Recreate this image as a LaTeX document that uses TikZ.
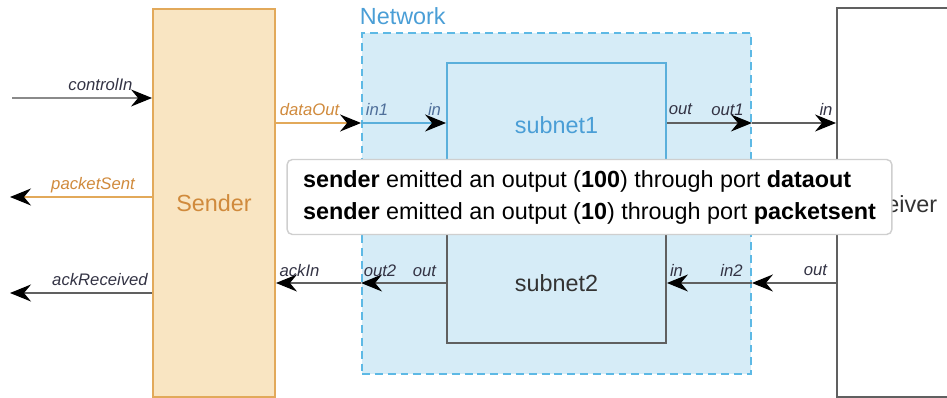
\documentclass[tikz,border=0pt]{standalone}
\usepackage{fontspec}
\setmainfont{Liberation Sans}
\usetikzlibrary{arrows.meta}

\definecolor{sndfill}{HTML}{F9E5C2}
\definecolor{sndline}{HTML}{E2A95A}
\definecolor{sndtext}{HTML}{D08A3C}
\definecolor{netfill}{HTML}{D6ECF7}
\definecolor{netline}{HTML}{5DB9E5}
\definecolor{nettext}{HTML}{4A9ED6}
\definecolor{subline}{HTML}{5AAFDB}
\definecolor{greyline}{HTML}{8A8A8A}
\definecolor{darkline}{HTML}{606060}
\definecolor{portc}{HTML}{333344}
\definecolor{portblue}{HTML}{4F6F9A}
\definecolor{popline}{HTML}{CFCFCF}

\tikzset{
	blk/.style={rectangle, line width=1.1pt, inner sep=0pt, font=\fontsize{13.3}{16}\selectfont},
	wire/.style={line width=0.85pt, -{Stealth[length=0.42cm, width=0.34cm, inset=0.14cm, color=black]}},
	port/.style={anchor=base, inner sep=0pt, text=portc, font=\fontsize{9.5}{11}\selectfont\itshape},
	popup/.style={rectangle, rounded corners=3pt, draw=popline, line width=0.8pt, fill=white,
		align=left, inner sep=0pt, font=\fontsize{13.3}{18.2}\selectfont}
}

\begin{document}
\begin{tikzpicture}[x=0.02cm, y=-0.02cm]
			%%%%% START %%%%%
			\clip (0,0) rectangle (947,398);
			
			% the two end blocks
			\node[blk, draw=sndline, fill=sndfill, text=sndtext, minimum width=2.44cm, minimum height=7.76cm] (sender) at (214,203) {Sender};
			\node[blk, draw=darkline, fill=white, minimum width=2.46cm, minimum height=7.78cm] (receiver) at (898.5,202.5) {};
			\node[blk, text=black!80, anchor=base] (rcvname) at (891,213) {Receiver};
			
			% network with its two subnets
			\node[blk, draw=netline, fill=netfill, dash pattern=on 4.5pt off 2.8pt, minimum width=7.78cm, minimum height=6.82cm] (network) at (556.5,203.5) {};
			\node[blk, text=nettext, anchor=base west] (netname) at (359,25) {Network};
			\node[blk, draw=subline, fill=netfill, text=nettext, minimum width=4.38cm, minimum height=2.48cm] (subnet1) at (556.5,125) {subnet1};
			\node[blk, draw=darkline, fill=netfill, text=black!80, minimum width=4.38cm, minimum height=2.4cm] (subnet2) at (556.5,283) {subnet2};
			
			% free ends on the left
			\coordinate (ctlIn) at (12,98);
			\coordinate (pktSent) at (10,197);
			\coordinate (ackRcv) at (10,293);
			\coordinate (topY) at (0,123);
			\coordinate (botY) at (0,283);
			
			\draw[wire, greyline] (ctlIn) -- (sender.west |- ctlIn);
			\draw[wire, sndline] (sender.west |- pktSent) -- (pktSent);
			\draw[wire, darkline] (sender.west |- ackRcv) -- (ackRcv);
			
			% data path
			\draw[wire, sndline] (sender.east |- topY) -- (network.west |- topY);
			\draw[wire, subline] (network.west |- topY) -- (subnet1.west |- topY);
			\draw[wire, darkline] (subnet1.east |- topY) -- (network.east |- topY);
			\draw[wire, darkline] (network.east |- topY) -- (receiver.west |- topY);
			
			% ack path
			\draw[wire, darkline] (receiver.west |- botY) -- (network.east |- botY);
			\draw[wire, darkline] (network.east |- botY) -- (subnet2.east |- botY);
			\draw[wire, darkline] (subnet2.west |- botY) -- (network.west |- botY);
			\draw[wire, darkline] (network.west |- botY) -- (sender.east |- botY);
			
			% port names
			\node[port] (l-ctl) at (100.5,91) {controlIn};
			\node[port, text=sndtext] (l-pkt) at (93,190) {packetSent};
			\node[port] (l-ack) at (100,286) {ackReceived};
			\node[port, text=sndtext] (l-dout) at (309.5,116) {dataOut};
			\node[port, text=portblue] (l-in1) at (377,116) {in1};
			\node[port, text=portblue] (l-s1in) at (434.5,116) {in};
			\node[port] (l-s1out) at (680.5,115) {out};
			\node[port] (l-out1) at (727.5,116) {out1};
			\node[port] (l-rin) at (826,116) {in};
			\node[port] (l-ackin) at (299.5,277) {ackIn};
			\node[port] (l-out2) at (380,277) {out2};
			\node[port] (l-s2out) at (424.5,277) {out};
			\node[port] (l-s2in) at (676.5,277) {in};
			\node[port] (l-in2) at (731.5,277) {in2};
			\node[port] (l-rout) at (815.5,276) {out};
			
			% message box on top
			\node[popup, minimum width=12.1cm, minimum height=1.5cm] (msg) at (589.5,197)
				{\textbf{sender} emitted an output (\textbf{100}) through port \textbf{dataout}\\
				 \textbf{sender} emitted an output (\textbf{10}) through port \textbf{packetsent}};
			
			%%%%% END %%%%%
\end{tikzpicture}
\end{document}
